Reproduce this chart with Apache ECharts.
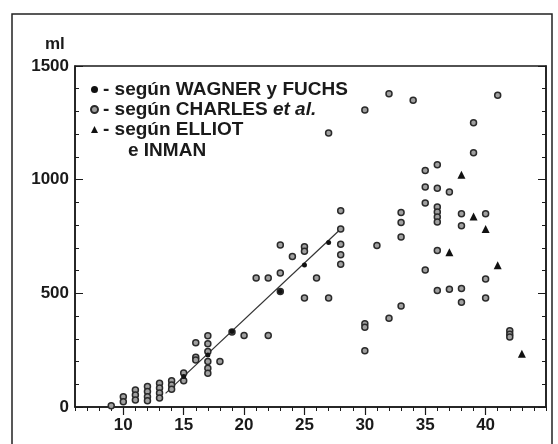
<!DOCTYPE html>
<html>
<head>
<meta charset="utf-8">
<script src="https://cdn.jsdelivr.net/npm/echarts@6/dist/echarts.min.js"></script>
<style>
  html, body { margin: 0; padding: 0; background: #fff; }
  #chart { width: 558px; height: 444px; }
</style>
</head>
<body>
<div id="chart"></div>
<script>
// edad (semanas) / volumen (ml)
const ageTicks = [10, 15, 20, 25, 30, 35, 40];
const volTicks = [0, 500, 1000, 1500];

const wagner = [
  [15, 134], [17, 229], [19, 332], [23, 508], [25, 625], [27, 724]
];

const charles = [
  [9, 6], [10, 45], [10, 23],
  [11, 75], [11, 53], [11, 31],
  [12, 90], [12, 68], [12, 45], [12, 28],
  [13, 104], [13, 84], [13, 62], [13, 40],
  [14, 116], [14, 97], [14, 78],
  [15, 150], [15, 115],
  [16, 283], [16, 219], [16, 207],
  [17, 313], [17, 278], [17, 244], [17, 200], [17, 170], [17, 148],
  [18, 200], [19, 330], [20, 315],
  [21, 567], [22, 567], [22, 315],
  [23, 713], [23, 589], [23, 508], [24, 662],
  [25, 705], [25, 685], [25, 479], [26, 567],
  [27, 479], [27, 1205],
  [28, 863], [28, 783], [28, 716], [28, 670], [28, 628],
  [30, 1306], [30, 366], [30, 351], [30, 247],
  [31, 710], [32, 1378], [32, 390],
  [33, 856], [33, 812], [33, 748], [33, 444],
  [34, 1349],
  [35, 1040], [35, 968], [35, 897], [35, 603],
  [36, 1066], [36, 962], [36, 880], [36, 858], [36, 836], [36, 814], [36, 688], [36, 512],
  [37, 946], [37, 518],
  [38, 850], [38, 797], [38, 521], [38, 461],
  [39, 1250], [39, 1118],
  [40, 850], [40, 563], [40, 480],
  [41, 1371],
  [42, 335], [42, 320], [42, 308]
];

const elliot = [
  [37, 681], [38, 1022], [39, 838], [40, 783], [41, 624], [43, 234]
];

// recta de ajuste
const fitLine = [[13.5, 60], [28, 783]];

const font = 'Liberation Sans, Arial, sans-serif';
const ink = '#1a1a1a';

const chart = echarts.init(document.getElementById('chart'));
chart.setOption({
  animation: false,
  backgroundColor: '#fff',
  textStyle: { fontFamily: font, color: ink },
  grid: {
    left: 75, right: 12, top: 66, bottom: 37,
    show: true, borderColor: ink, borderWidth: 1.5
  },
  legend: {
    orient: 'vertical',
    left: 85, top: 75,
    itemWidth: 7, itemHeight: 7,
    itemGap: 1,
    data: ['según WAGNER y FUCHS', 'según CHARLES et al.', 'según ELLIOT e INMAN'],
    formatter: function (name) {
      if (name === 'según CHARLES et al.') return '- según CHARLES {i|et al.}';
      if (name === 'según ELLIOT e INMAN') return '- según ELLIOT';
      return '- ' + name;
    },
    textStyle: {
      fontFamily: font, fontSize: 19, fontWeight: 'bold', color: ink, lineHeight: 17,
      rich: { i: { fontStyle: 'italic', fontWeight: 'bold', fontSize: 19, lineHeight: 17, fontFamily: font, color: ink } }
    }
  },
  graphic: [
    {
      type: 'rect', silent: true,
      shape: { x: 12, y: 14, width: 540, height: 440 },
      style: { fill: 'none', stroke: '#222', lineWidth: 1.5 }
    },
    {
      type: 'text', left: 128, top: 141,
      style: { text: 'e INMAN', font: 'bold 19px ' + font, fill: ink }
    },
    {
      type: 'text', left: 45, top: 36,
      style: { text: 'ml', font: 'bold 17px ' + font, fill: ink }
    }
  ],
  xAxis: [
    {
      type: 'value', min: 6, max: 45, interval: 1,
      axisLine: { lineStyle: { color: ink, width: 1.5 } },
      axisTick: { length: 4, lineStyle: { color: ink } },
      axisLabel: { show: false },
      splitLine: { show: false }
    },
    {
      type: 'value', min: 6, max: 45, position: 'bottom',
      axisLine: { show: false },
      axisTick: { customValues: ageTicks, length: 8, lineStyle: { color: ink, width: 1.2 } },
      axisLabel: { customValues: ageTicks, fontSize: 17, fontWeight: 'bold', color: ink, margin: 10, fontFamily: font },
      splitLine: { show: false }
    }
  ],
  yAxis: [
    {
      type: 'value', min: 0, max: 1500, interval: 500, position: 'left',
      axisLine: { show: true, lineStyle: { color: ink, width: 1.5 } },
      axisTick: { inside: true, length: 8, lineStyle: { color: ink } },
      minorTick: { show: true, splitNumber: 5, length: 4, lineStyle: { color: ink } },
      axisLabel: {
        customValues: volTicks, fontSize: 17, fontWeight: 'bold', color: ink, margin: 6, fontFamily: font,
        formatter: function (v) { return String(v); }
      },
      splitLine: { show: false }
    },
    {
      type: 'value', min: 0, max: 1500, interval: 500, position: 'right',
      axisLine: { show: true, lineStyle: { color: ink, width: 1.5 } },
      axisTick: { inside: true, length: 8, lineStyle: { color: ink } },
      minorTick: { show: true, splitNumber: 5, length: 4, lineStyle: { color: ink } },
      axisLabel: { show: false },
      splitLine: { show: false }
    }
  ],
  series: [
    {
      type: 'line', data: fitLine, silent: true,
      symbol: 'none', lineStyle: { color: '#333', width: 1.2 },
      z: 1
    },
    {
      name: 'según CHARLES et al.', type: 'scatter', data: charles,
      symbol: 'circle', symbolSize: 6,
      itemStyle: { color: '#a0a0a0', borderColor: '#2a2a2a', borderWidth: 1.5, opacity: 1 },
      z: 2
    },
    {
      name: 'según WAGNER y FUCHS', type: 'scatter', data: wagner,
      symbol: 'circle', symbolSize: 5,
      itemStyle: { color: '#111', opacity: 1 },
      z: 3
    },
    {
      name: 'según ELLIOT e INMAN', type: 'scatter', data: elliot,
      symbol: 'triangle', symbolSize: 8,
      itemStyle: { color: '#111', opacity: 1 },
      z: 3
    }
  ]
});
</script>
</body>
</html>
